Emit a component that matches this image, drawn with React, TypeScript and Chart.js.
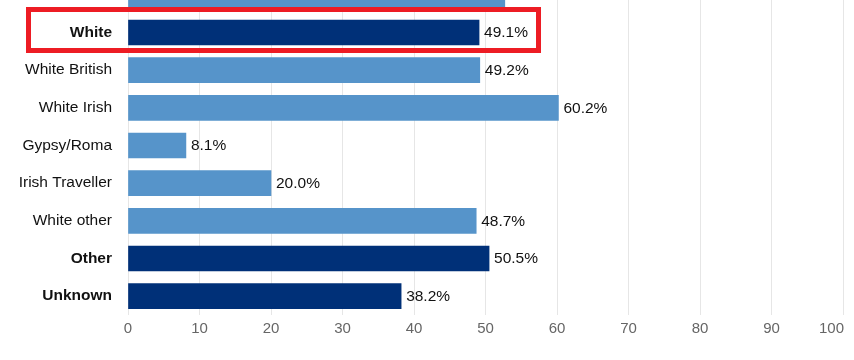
import { useEffect, useRef } from 'react';
import { Chart, registerables } from 'chart.js';

Chart.register(...registerables);

const categories = ['Mixed other', 'White', 'White British', 'White Irish', 'Gypsy/Roma', 'Irish Traveller', 'White other', 'Other', 'Unknown'];
const values = [52.7, 49.1, 49.2, 60.2, 8.1, 20.0, 48.7, 50.5, 38.2];
const isAggregate = [false, true, false, false, false, false, false, true, true];
const xTicks = [0, 10, 20, 30, 40, 50, 60, 70, 80, 90, 100];
const highlighted = 'White';

const FONT = "'Liberation Sans', Arial, sans-serif";
const DARK = '#003078';
const LIGHT = '#5694ca';

const overlay = {
  id: 'overlay',
  afterDatasetsDraw(chart: any) {
    const { ctx, chartArea } = chart;
    const xs = chart.scales.x;
    const ys = chart.scales.y;
    const meta = chart.getDatasetMeta(0);
    ctx.save();
    ctx.font = '15.5px ' + FONT;
    ctx.textBaseline = 'middle';
    ctx.textAlign = 'left';
    ctx.fillStyle = '#111';
    meta.data.forEach((bar: any, i: number) => {
      ctx.fillText(values[i].toFixed(1) + '%', bar.x + 5, bar.y + 0.5);
    });
    ctx.fillStyle = '#666';
    ctx.font = '15px ' + FONT;
    xTicks.forEach((v) => {
      const px = xs.getPixelForValue(v);
      const t = String(v);
      const w = ctx.measureText(t).width;
      let left = px - w / 2;
      if (left + w > chartArea.right + 1) left = chartArea.right + 1 - w;
      ctx.fillText(t, left, chartArea.bottom + 13.5);
    });
    const hi = categories.indexOf(highlighted);
    const cy = ys.getPixelForValue(hi);
    ctx.strokeStyle = '#ed1c24';
    ctx.lineWidth = 5;
    ctx.strokeRect(28.5, cy - 23, 510, 41);
    ctx.restore();
  },
};

export default function App() {
  const ref = useRef<HTMLCanvasElement | null>(null);
  useEffect(() => {
    if (!ref.current) return;
    const chart = new Chart(ref.current, {
      type: 'bar',
      data: {
        labels: categories,
        datasets: [
          {
            data: values,
            backgroundColor: isAggregate.map((a) => (a ? DARK : LIGHT)),
            barThickness: 25,
            borderWidth: 0,
          },
        ],
      },
      options: {
        indexAxis: 'y',
        responsive: false,
        animation: false,
        layout: { padding: { top: 16, right: 11, bottom: 0, left: 0 } },
        plugins: { legend: { display: false }, tooltip: { enabled: false } },
        scales: {
          x: {
            min: 0,
            max: 100,
            ticks: { display: false, stepSize: 10 },
            grid: { color: '#e6e6e6', drawTicks: false },
            border: { display: false },
            afterFit: (s: any) => {
              s.height = 45;
              s.paddingLeft = 0;
              s.paddingRight = 0;
            },
          },
          y: {
            grid: { display: false, drawTicks: false },
            border: { display: false },
            ticks: {
              padding: 16,
              color: '#111',
              font: (c: any) => ({
                family: FONT,
                size: 15.5,
                weight: isAggregate[c.index] ? 'bold' : 'normal',
              }),
            },
            afterFit: (s: any) => {
              s.width = 128;
              s.paddingTop = 0;
              s.paddingBottom = 0;
            },
          },
        },
      },
      plugins: [overlay],
    });
    return () => chart.destroy();
  }, []);
  return (
    <div style={{ position: 'absolute', left: 0, top: 0, width: 854, height: 360, overflow: 'hidden', background: '#fff' }}>
      <canvas ref={ref} width={854} height={400} style={{ position: 'absolute', left: 0, top: -40 }} />
    </div>
  );
}
